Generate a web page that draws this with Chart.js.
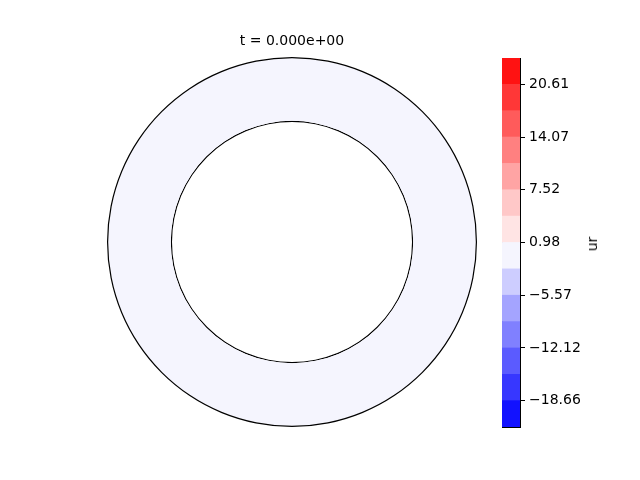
<!DOCTYPE html>
<html>
<head>
<meta charset="utf-8">
<script src="https://cdn.jsdelivr.net/npm/chart.js@4"></script>
<style>
  html, body { margin: 0; padding: 0; background: #fff; }
  #wrap { position: relative; width: 640px; height: 480px; overflow: hidden; }
  #ringChart { position: absolute; left: 0; top: 0; }
  #barChart { position: absolute; left: 480px; top: 0; }
  #cbLabel {
    position: absolute; left: 592px; top: 244px;
    font: 14px "DejaVu Sans", sans-serif; color: #000;
    transform: translate(-50%, -50%) rotate(-90deg);
    white-space: nowrap;
  }
</style>
</head>
<body>
<div id="wrap">
  <canvas id="ringChart" width="584" height="480"></canvas>
  <canvas id="barChart" width="160" height="480"></canvas>
  <div id="cbLabel">ur</div>
</div>
<script>
// contour levels of the colorbar (bottom -> top)
const levels = [-21.93, -18.66, -15.39, -12.12, -8.84, -5.57, -2.30, 0.98,
                4.25, 7.52, 10.80, 14.07, 17.34, 20.61, 23.88];
const tickValues = [-18.66, -12.12, -5.57, 0.98, 7.52, 14.07, 20.61];
const bandColors = [
  'rgb(18,18,255)', 'rgb(55,55,255)', 'rgb(91,91,255)', 'rgb(128,128,255)',
  'rgb(164,164,255)', 'rgb(205,205,255)', 'rgb(245,245,254)',
  'rgb(255,228,228)', 'rgb(255,200,200)', 'rgb(255,164,164)', 'rgb(255,128,128)',
  'rgb(255,91,91)', 'rgb(255,55,55)', 'rgb(255,18,18)'
];
const timeLabel = 't = 0.000e+00';
const fieldName = 'ur';
// ur over the annulus at t = 0
const ringValue = [0];

Chart.defaults.font.family = '"DejaVu Sans", sans-serif';
Chart.defaults.font.size = 14;
Chart.defaults.color = '#000';

function bandColorFor(v) {
  for (let i = 0; i < bandColors.length; i++) {
    if (v >= levels[i] && v < levels[i + 1]) return bandColors[i];
  }
  return bandColors[bandColors.length - 1];
}

// annulus with its two boundary circles
new Chart(document.getElementById('ringChart'), {
  type: 'doughnut',
  data: {
    labels: [fieldName],
    datasets: [
      { data: [1], backgroundColor: '#000', borderWidth: 0, weight: 1.2 },
      { data: ringValue.map(() => 1), backgroundColor: ringValue.map(bandColorFor), borderWidth: 0, weight: 62.6 },
      { data: [1], backgroundColor: '#000', borderWidth: 0, weight: 1.2 }
    ]
  },
  options: {
    responsive: false,
    animation: false,
    radius: 185,
    cutout: 120,
    layout: { padding: { top: 24, bottom: 53, left: 0, right: 0 } },
    plugins: {
      legend: { display: false },
      tooltip: { enabled: false },
      title: {
        display: true,
        text: timeLabel,
        color: '#000',
        font: { size: 14, weight: 'normal' },
        padding: { top: 8.6, bottom: 7.6 }
      }
    }
  }
});

// border-only axis used to close the colorbar frame
const frameAxis = (type, position) => ({
  type: type,
  position: position,
  min: type === 'linear' ? levels[0] : undefined,
  max: type === 'linear' ? levels[levels.length - 1] : undefined,
  grid: { display: false, drawTicks: false },
  ticks: { display: false },
  border: { display: true, color: '#000', width: 1 }
});

// colorbar
new Chart(document.getElementById('barChart'), {
  type: 'bar',
  data: {
    labels: [fieldName],
    datasets: bandColors.map((c, i) => ({
      data: [[levels[i], levels[i + 1]]],
      backgroundColor: c,
      borderWidth: 0,
      grouped: false,
      categoryPercentage: 1,
      barPercentage: 1
    }))
  },
  options: {
    responsive: false,
    animation: false,
    layout: { padding: { top: 58, bottom: 53, left: 22, right: 0 } },
    plugins: { legend: { display: false }, tooltip: { enabled: false } },
    scales: {
      x: frameAxis('category', 'bottom'),
      xTop: frameAxis('category', 'top'),
      yLeft: frameAxis('linear', 'left'),
      y: {
        type: 'linear',
        position: 'right',
        min: levels[0],
        max: levels[levels.length - 1],
        afterBuildTicks: (scale) => { scale.ticks = tickValues.map(v => ({ value: v })); },
        afterFit: (scale) => { scale.width = 120; },
        grid: {
          display: true,
          drawOnChartArea: false,
          drawTicks: true,
          tickLength: 5,
          tickColor: '#000',
          tickWidth: 1
        },
        border: { display: true, color: '#000', width: 1 },
        ticks: {
          padding: 4,
          color: '#000',
          autoSkip: false,
          callback: (v) => v.toFixed(2).replace('-', '\u2212')
        }
      }
    }
  }
});
</script>
</body>
</html>
